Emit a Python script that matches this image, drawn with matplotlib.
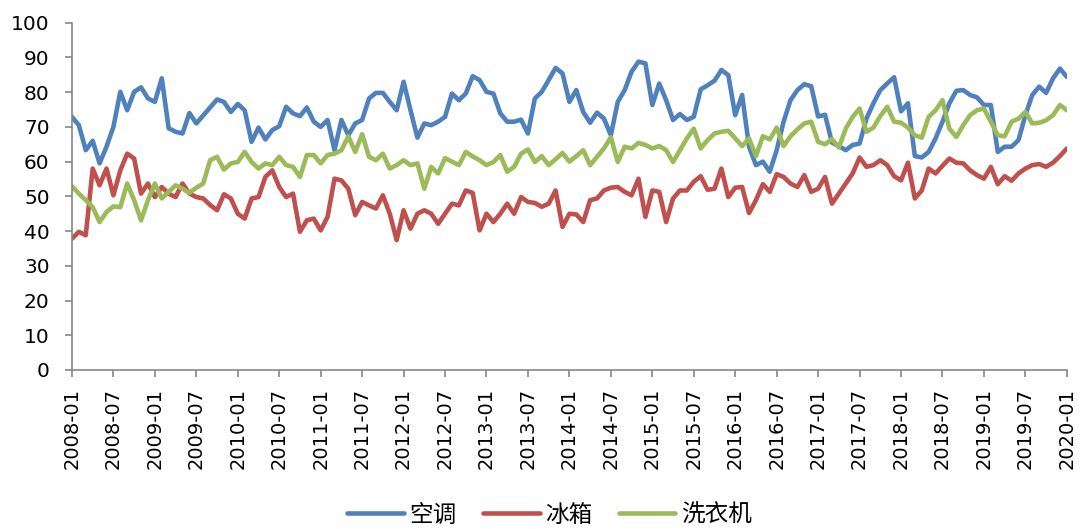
import matplotlib
matplotlib.use("Agg")
import matplotlib.pyplot as plt
import pandas as pd

months = pd.date_range("2008-01-01", "2020-01-01", freq="MS").strftime("%Y-%m").tolist()

aircon = [72.9, 70.5, 63.3, 66.0, 59.5, 64.3, 70.0, 80.1, 74.8, 80.1, 81.4, 78.2,
          77.2, 84.0, 69.6, 68.6, 68.1, 74.0, 71.0, 73.3, 75.6, 77.9, 77.2, 74.3,
          76.6, 74.8, 65.7, 69.8, 66.4, 69.1, 70.2, 75.8, 73.9, 73.1, 75.6, 71.5,
          70.0, 72.0, 63.3, 72.0, 67.6, 71.0, 72.0, 78.2, 79.8, 79.8, 77.2, 74.8,
          83.0, 74.8, 66.9, 71.0, 70.5, 71.5, 72.9, 79.6, 77.7, 79.6, 84.6, 83.5,
          80.1, 79.6, 73.9, 71.5, 71.5, 72.1, 68.1, 78.2, 80.1, 83.5, 87.0, 85.4,
          77.2, 80.6, 74.3, 71.2, 74.1, 72.4, 67.6, 77.2, 80.6, 85.9, 88.8, 88.3,
          76.3, 82.5, 77.7, 72.0, 73.7, 72.0, 72.9, 80.8, 82.0, 83.3, 86.4, 84.9,
          73.4, 79.2, 64.3, 59.0, 60.0, 57.1, 63.3, 71.5, 77.7, 80.6, 82.3, 81.7,
          73.0, 73.5, 65.5, 64.5, 63.3, 64.8, 65.2, 72.4, 76.8, 80.6, 82.5, 84.3,
          74.5, 76.8, 61.6, 61.2, 62.8, 66.7, 71.5, 76.8, 80.4, 80.6, 79.2, 78.5,
          76.3, 76.3, 62.8, 64.3, 64.3, 66.2, 73.4, 79.2, 81.6, 79.8, 84.0, 86.8,
          84.4]

fridge = [37.8, 39.8, 38.8, 58.0, 53.2, 58.0, 50.3, 57.5, 62.3, 60.9, 50.8, 53.7,
          49.8, 52.7, 50.8, 49.8, 53.7, 50.8, 49.8, 49.4, 47.5, 46.0, 50.6, 49.4,
          45.0, 43.6, 49.4, 49.8, 55.6, 57.5, 52.7, 49.8, 50.8, 39.8, 43.1, 43.6,
          40.2, 44.1, 55.1, 54.6, 52.2, 44.6, 48.4, 47.4, 46.5, 50.3, 45.0, 37.4,
          46.0, 40.7, 45.0, 46.0, 45.0, 42.1, 45.0, 47.9, 47.4, 51.7, 51.0, 40.2,
          45.0, 42.6, 45.0, 47.9, 45.0, 49.8, 48.4, 48.1, 47.0, 47.9, 51.7, 41.2,
          45.0, 44.8, 42.6, 48.9, 49.4, 51.7, 52.5, 52.7, 51.3, 50.3, 55.1, 44.1,
          51.7, 51.3, 42.6, 49.4, 51.7, 51.7, 54.2, 55.8, 51.9, 52.2, 58.0, 49.8,
          52.5, 52.7, 45.2, 48.9, 53.5, 51.3, 56.4, 55.6, 53.7, 52.7, 56.1, 51.3,
          52.2, 55.6, 47.9, 50.8, 53.7, 56.6, 61.2, 58.5, 59.0, 60.4, 59.0, 55.8,
          54.6, 59.7, 49.4, 51.7, 58.0, 56.6, 58.8, 60.9, 59.7, 59.5, 57.5, 56.1,
          55.1, 58.5, 53.5, 55.8, 54.5, 56.6, 58.0, 59.0, 59.3, 58.5, 59.7, 61.6,
          63.8]

washer = [52.9, 50.8, 48.9, 46.9, 42.6, 45.5, 47.1, 46.9, 53.7, 48.9, 43.1, 48.9,
          53.7, 49.4, 51.3, 53.2, 52.2, 51.0, 52.5, 53.7, 60.4, 61.4, 57.7, 59.5,
          59.9, 62.8, 59.9, 58.0, 59.5, 59.0, 61.4, 59.0, 58.5, 55.6, 61.9, 61.9,
          59.5, 61.9, 62.3, 63.3, 67.3, 62.8, 67.9, 61.4, 60.4, 62.3, 58.0, 59.0,
          60.4, 59.0, 59.5, 52.2, 58.5, 56.6, 61.0, 60.0, 59.0, 62.8, 61.5, 60.4,
          59.0, 59.9, 61.9, 57.1, 58.5, 62.3, 63.5, 59.9, 61.6, 59.0, 60.7, 62.5,
          60.0, 61.6, 63.3, 59.0, 61.4, 63.8, 67.0, 59.9, 64.3, 63.8, 65.4, 64.8,
          63.8, 64.5, 63.3, 59.9, 63.3, 66.7, 69.5, 63.8, 66.2, 68.1, 68.6, 68.9,
          66.7, 64.5, 66.7, 61.6, 67.3, 66.4, 69.8, 64.5, 67.3, 69.3, 71.0, 71.5,
          65.7, 65.0, 66.5, 64.1, 69.5, 72.9, 75.3, 68.6, 69.8, 73.1, 75.8, 71.5,
          71.2, 69.8, 67.6, 66.9, 72.9, 74.8, 77.7, 69.5, 67.1, 70.5, 73.4, 74.8,
          75.3, 71.5, 67.6, 67.3, 71.5, 72.4, 74.3, 71.0, 71.2, 71.9, 73.4, 76.3,
          74.8]

series_names = ["空调", "冰箱", "洗衣机"]
colors = ["#4F81BD", "#C0504D", "#9BBB59"]
yticks = [0, 10, 20, 30, 40, 50, 60, 70, 80, 90, 100]

plt.rcParams["font.family"] = ["DejaVu Sans"]

fig = plt.figure(figsize=(10.82, 5.29), dpi=100)
ax = fig.add_axes([0.0665, 0.3006, 0.9195, 0.6564])

x = list(range(len(months)))
for vals, name, c in zip([aircon, fridge, washer], series_names, colors):
    ax.plot(x, vals, color=c, lw=3.3, label=name, solid_joinstyle="round",
            solid_capstyle="round")

ax.set_xlim(0, len(months) - 1)
ax.set_ylim(0, 100)
ax.set_yticks(yticks)
ax.set_yticklabels([str(v) for v in yticks], fontsize=14.5)
ax.set_xticks(x[::6])
ax.set_xticklabels(months[::6], rotation=90, fontsize=14, va="top")

for s in ["top", "right"]:
    ax.spines[s].set_visible(False)
for s in ["left", "bottom"]:
    ax.spines[s].set_color("#868686")
    ax.spines[s].set_linewidth(1.2)
ax.tick_params(axis="y", direction="out", length=5, width=1.2, color="#868686", pad=11)
ax.tick_params(axis="x", direction="out", length=5, width=1.2, color="#868686", pad=8)

leg = fig.legend(loc="center", bbox_to_anchor=(0.508, 0.026), ncol=3, frameon=False,
                 prop={"family": ["Noto Sans CJK SC", "DejaVu Sans"], "size": 17},
                 handlelength=2.4, handletextpad=0.25, columnspacing=1.1)
for h in leg.get_lines():
    h.set_linewidth(3.3)

fig.savefig("out.png", dpi=100)
